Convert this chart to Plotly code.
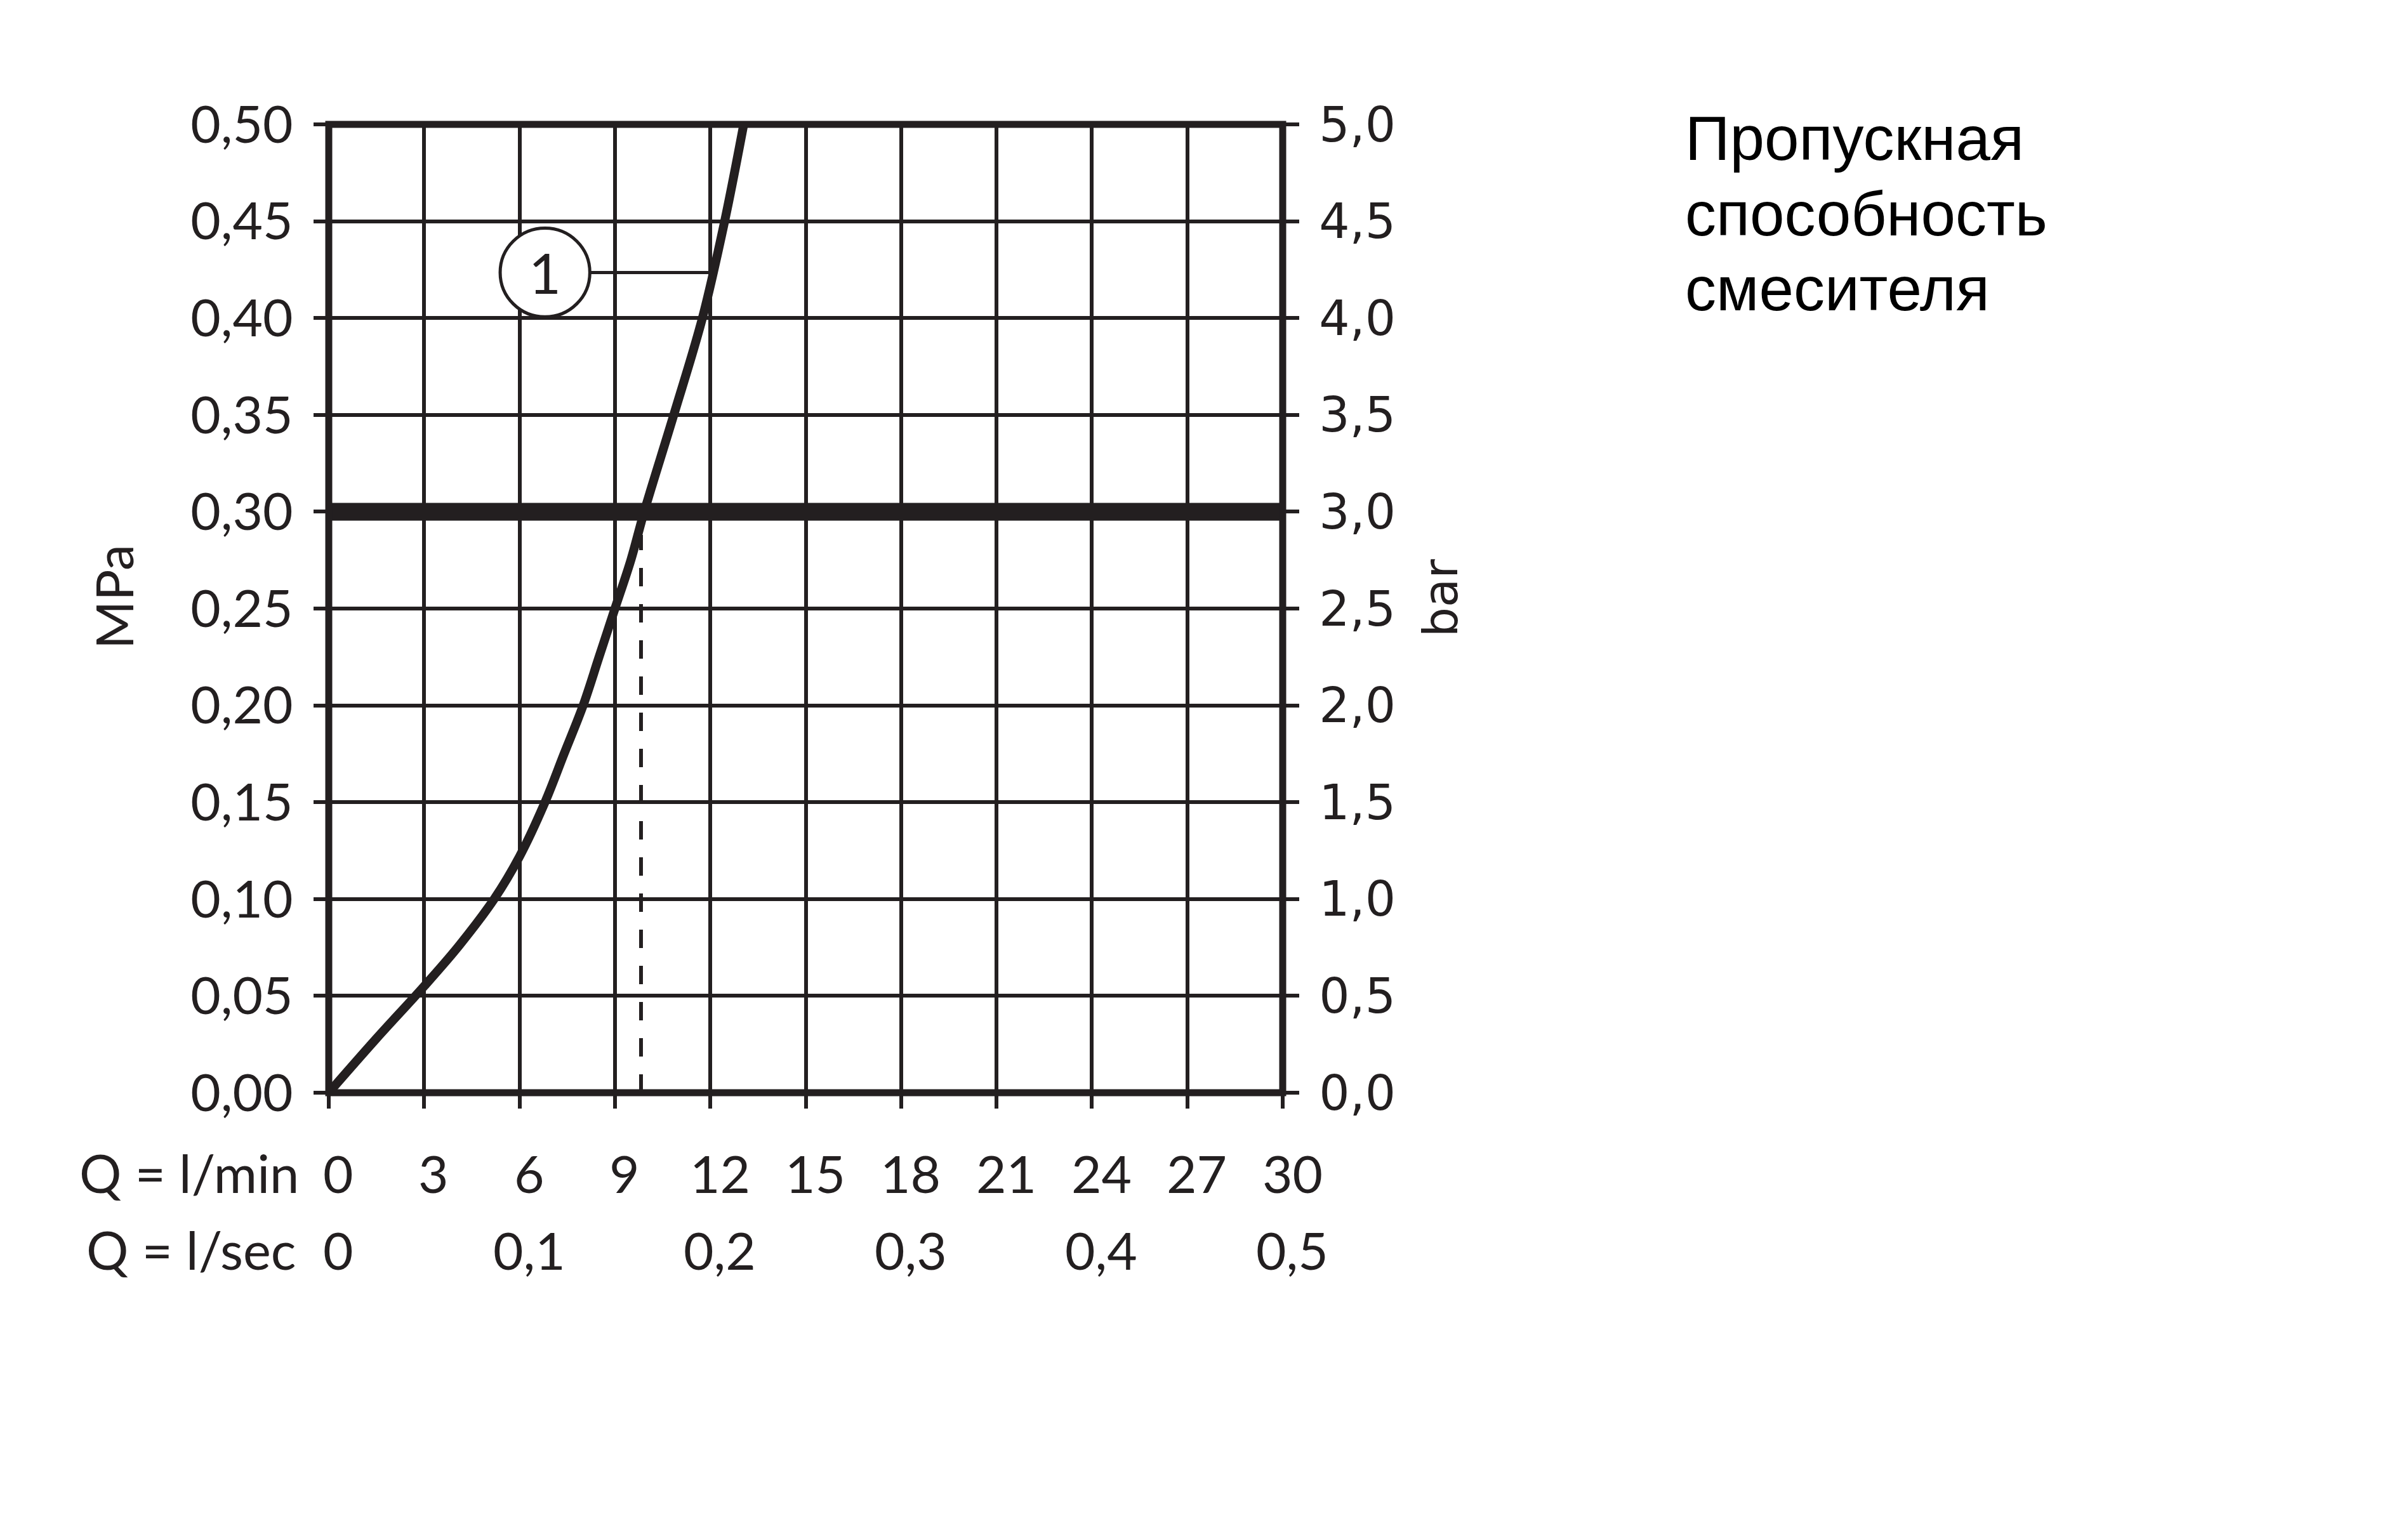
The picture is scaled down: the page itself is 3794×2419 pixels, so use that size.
import plotly.graph_objects as go

# ---- data ----
flow_lmin = [0, 1.5, 3, 4.1, 5.2, 6, 6.8, 7.4, 8.0, 8.5, 9.0, 9.5, 9.92, 10.85, 11.75, 12.45, 13.05]
pressure_mpa = [0, 0.028, 0.055, 0.076, 0.10, 0.122, 0.15, 0.175, 0.20, 0.225, 0.25, 0.275, 0.30, 0.35, 0.40, 0.45, 0.50]

lmin_ticks = [0, 3, 6, 9, 12, 15, 18, 21, 24, 27, 30]
lsec_ticks = [0, 0.1, 0.2, 0.3, 0.4, 0.5]
lsec_labels = ["0", "0,1", "0,2", "0,3", "0,4", "0,5"]

ref_pressure = 0.30      # thick reference line (MPa)
ref_flow = 9.82          # dashed drop line (l/min)
curve_label = "1"
label_center = (6.8, 0.4235)
label_radius = (1.41, 0.0229)
curve_hit = (12.07, 0.4235)

title_lines = ["Пропускная", "способность", "смесителя"]

INK = "#231f20"
FONT_L = "Lato"
FONT_R = "DejaVu Sans"

W, H = 3794, 2419
L, R, T, B = 510, 2013, 188, 1714
pw, ph = R - L, B - T

fig = go.Figure()

fig.add_trace(go.Scatter(
    x=flow_lmin, y=pressure_mpa, mode="lines",
    line=dict(color=INK, width=14, shape="spline", smoothing=1.0),
    showlegend=False, hoverinfo="skip"))

# invisible trace for the bar axis
fig.add_trace(go.Scatter(x=[0, 30], y=[0, 5], yaxis="y2", mode="lines",
                         line=dict(width=0, color="rgba(0,0,0,0)"),
                         showlegend=False, hoverinfo="skip"))

shapes = []
# thick reference line
shapes.append(dict(type="line", xref="x", yref="y", x0=0, x1=30, y0=ref_pressure, y1=ref_pressure,
                   line=dict(color=INK, width=28), layer="above"))
# dashed drop line
shapes.append(dict(type="line", xref="x", yref="y", x0=ref_flow, x1=ref_flow, y0=0, y1=ref_pressure - 0.012,
                   line=dict(color=INK, width=6, dash="29px,28px"), layer="above"))
# label circle
cx, cy = label_center
rx, ry = label_radius
shapes.append(dict(type="circle", xref="x", yref="y", x0=cx - rx, x1=cx + rx, y0=cy - ry, y1=cy + ry,
                   line=dict(color=INK, width=5), fillcolor="white", layer="above"))
# leader line
shapes.append(dict(type="line", xref="x", yref="y", x0=cx + rx, x1=curve_hit[0], y0=curve_hit[1], y1=curve_hit[1],
                   line=dict(color=INK, width=5), layer="above"))
# frame (paper-referenced so it is not clipped)
shapes.append(dict(type="rect", xref="paper", yref="paper", x0=0, x1=1, y0=0, y1=1,
                   line=dict(color=INK, width=11), fillcolor="rgba(0,0,0,0)", layer="above"))

annotations = []
annotations.append(dict(x=cx, y=cy, xref="x", yref="y", text=curve_label, showarrow=False,
                        font=dict(family=FONT_L, size=88, color=INK), xanchor="center", yanchor="middle"))

row1_y = (B - 1840) / ph
row2_y = (B - 1961) / ph
for v in lmin_ticks:
    annotations.append(dict(x=v, y=row1_y, xref="x", yref="paper", text=str(v), showarrow=False,
                            xanchor="center", yanchor="middle", xshift=15,
                            font=dict(family=FONT_L, size=82, color=INK)))
for v, lab in zip(lsec_ticks, lsec_labels):
    annotations.append(dict(x=v * 60, y=row2_y, xref="x", yref="paper", text=lab, showarrow=False,
                            xanchor="center", yanchor="middle", xshift=15,
                            font=dict(family=FONT_L, size=82, color=INK)))
annotations.append(dict(x=(465 - L) / pw, y=row1_y, xref="paper", yref="paper", text="Q = l/min",
                        showarrow=False, xanchor="right", yanchor="middle",
                        font=dict(family=FONT_L, size=83, color=INK)))
annotations.append(dict(x=(460 - L) / pw, y=row2_y, xref="paper", yref="paper", text="Q = l/sec",
                        showarrow=False, xanchor="right", yanchor="middle",
                        font=dict(family=FONT_L, size=83, color=INK)))

# axis titles
annotations.append(dict(x=(170 - L) / pw, y=(B - 933) / ph, xref="paper", yref="paper", text="MPa",
                        showarrow=False, textangle=-90, xanchor="center", yanchor="middle",
                        font=dict(family=FONT_L, size=82, color=INK)))
annotations.append(dict(x=(2262 - L) / pw, y=(B - 935) / ph, xref="paper", yref="paper", text="bar",
                        showarrow=False, textangle=-90, xanchor="center", yanchor="middle",
                        font=dict(family=FONT_R, size=74, color=INK)))

# title block
for i, line in enumerate(title_lines):
    py = 210 + i * 118.5
    annotations.append(dict(x=(2645 - L) / pw, y=(B - py) / ph, xref="paper", yref="paper", text=line,
                            showarrow=False, xanchor="left", yanchor="middle",
                            font=dict(family="Liberation Sans", size=98, color="black")))

fig.update_layout(
    width=W, height=H,
    margin=dict(l=L, r=W - R, t=T, b=H - B, pad=0),
    paper_bgcolor="white", plot_bgcolor="white",
    separators=",.",
    showlegend=False,
    shapes=shapes,
    annotations=annotations,
    xaxis=dict(range=[0, 30], tickmode="array", tickvals=lmin_ticks, showticklabels=False,
               showgrid=True, gridcolor=INK, gridwidth=6, zeroline=False, showline=False,
               ticks="outside", ticklen=24, tickwidth=6, tickcolor=INK),
    yaxis=dict(range=[0, 0.5], dtick=0.05, tick0=0, tickformat=".2f",
               showgrid=True, gridcolor=INK, gridwidth=6, zeroline=False, showline=False,
               ticks="outside", ticklen=23, tickwidth=6, tickcolor=INK,
               ticklabelstandoff=16,
               tickfont=dict(family=FONT_L, size=82, color=INK)),
    yaxis2=dict(range=[0, 5], dtick=0.5, tick0=0, tickformat=".1f", overlaying="y", side="right",
                showgrid=False, zeroline=False, showline=False,
                ticks="outside", ticklen=25, tickwidth=6, tickcolor=INK,
                ticklabelstandoff=16,
                tickfont=dict(family=FONT_R, size=76, color=INK)),
)

fig.write_html("out.html")
